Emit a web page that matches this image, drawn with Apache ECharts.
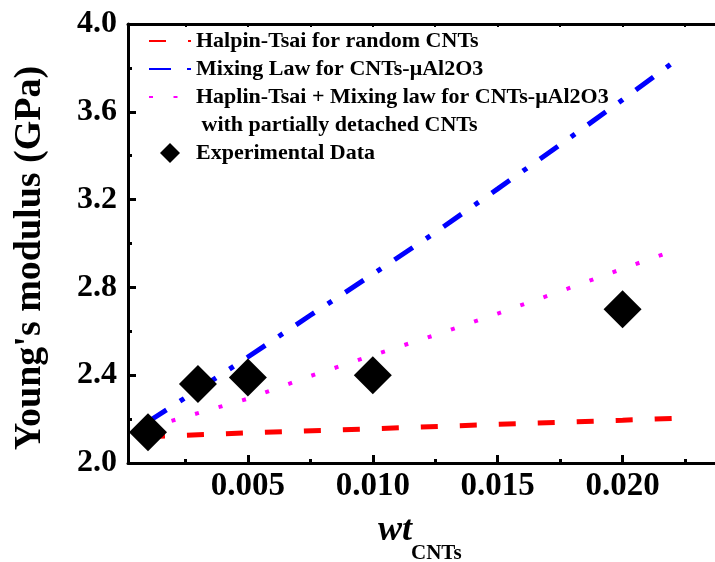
<!DOCTYPE html>
<html>
<head>
<meta charset="utf-8">
<script src="https://cdn.jsdelivr.net/npm/echarts@6/dist/echarts.min.js"></script>
<style>
  html, body { margin: 0; padding: 0; background: #fff; }
  #chart { width: 715px; height: 562px; }
</style>
</head>
<body>
<div id="chart"></div>
<script>
// values
const expX = [0.001, 0.003, 0.005, 0.010, 0.020];
const expY = [2.14, 2.36, 2.39, 2.40, 2.70];
const halpinX = [0.001, 0.005, 0.010, 0.015, 0.020, 0.022];
const halpinY = [2.120, 2.137, 2.156, 2.176, 2.195, 2.203];
const mixX = [0.001, 0.003, 0.005, 0.0075, 0.010, 0.0125, 0.015, 0.0175, 0.020, 0.022];
const mixY = [2.188, 2.334, 2.483, 2.673, 2.860, 3.050, 3.249, 3.450, 3.655, 3.823];
const detX = [0.001, 0.003, 0.005, 0.0075, 0.010, 0.0125, 0.015, 0.0175, 0.020, 0.022];
const detY = [2.161, 2.227, 2.293, 2.396, 2.491, 2.583, 2.681, 2.782, 2.885, 2.966];
const xMajorTicks = [0.005, 0.010, 0.015, 0.020];
const xMinorTicks = [0.0025, 0.0075, 0.0125, 0.0175, 0.0225];

const names = [
  'Halpin-Tsai for random CNTs',
  'Mixing Law for CNTs-\u03bcAl2O3',
  'Haplin-Tsai + Mixing law for CNTs-\u03bcAl2O3',
  ' with partially detached CNTs',
  'Experimental Data'
];

const serif = "'Liberation Serif', 'Times New Roman', serif";
const zip = (xs, ys) => xs.map((x, i) => [x, ys[i]]);

let myChart = echarts.init(document.getElementById('chart'), null, { renderer: 'canvas' });

const xRange = { min: 0.0002, max: 0.0237 };
// legend line icons: hide the circle that echarts puts on line icons
const noDot = { opacity: 0 };
// square diamond inside the 42x20 legend icon box (the M points only set the box)
const diamondIcon = 'path://M0,0 M42,20 M21,0 L31,10 L21,20 L11,10 Z';

let option = {
  animation: false,
  grid: { left: 128, right: 0, top: 24, bottom: 99, containLabel: false, outerBoundsMode: 'none' },
  legend: {
    orient: 'vertical',
    left: 143,
    top: 25,
    itemWidth: 42,
    itemHeight: 20,
    itemGap: 6,
    selectedMode: false,
    textStyle: { fontFamily: serif, fontWeight: 'bold', fontSize: 22, color: '#000', lineHeight: 22 },
    data: [
      { name: names[0], itemStyle: noDot },
      { name: names[1], itemStyle: noDot },
      { name: names[2], itemStyle: noDot },
      { name: names[3], icon: 'none' },
      { name: names[4], icon: diamondIcon }
    ]
  },
  xAxis: [
    {
      type: 'value', position: 'bottom', ...xRange,
      axisLine: { show: true, lineStyle: { color: '#000', width: 3 } },
      axisTick: { show: true, inside: true, length: 8, lineStyle: { color: '#000', width: 3 }, customValues: xMajorTicks },
      axisLabel: {
        customValues: xMajorTicks, margin: 7,
        formatter: v => v.toFixed(3),
        fontFamily: serif, fontWeight: 'bold', fontSize: 33, color: '#000'
      },
      splitLine: { show: false }
    },
    {
      // minor ticks on bottom
      type: 'value', position: 'bottom', ...xRange,
      axisLine: { show: false },
      axisTick: { show: true, inside: true, length: 4, lineStyle: { color: '#000', width: 3 }, customValues: xMinorTicks },
      axisLabel: { show: false },
      splitLine: { show: false }
    },
    {
      // top frame
      type: 'value', position: 'top', ...xRange,
      axisLine: { show: true, lineStyle: { color: '#000', width: 3 } },
      axisTick: { show: true, inside: true, length: 3, lineStyle: { color: '#000', width: 2 },
        customValues: [0.0025, 0.005, 0.0075, 0.010, 0.0125, 0.015, 0.0175, 0.020, 0.0225] },
      axisLabel: { show: false },
      splitLine: { show: false }
    }
  ],
  yAxis: {
    type: 'value', min: 2.0, max: 4.0, interval: 0.4,
    axisLine: { show: true, lineStyle: { color: '#000', width: 3 } },
    axisTick: { show: true, inside: true, length: 8, lineStyle: { color: '#000', width: 3 } },
    minorTick: { show: true, splitNumber: 2, length: 4, lineStyle: { color: '#000', width: 3 } },
    axisLabel: {
      margin: 11,
      formatter: v => v.toFixed(1),
      fontFamily: serif, fontWeight: 'bold', fontSize: 32, color: '#000'
    },
    splitLine: { show: false }
  },
  series: [
    {
      name: names[0], type: 'line', xAxisIndex: 0, symbol: 'none',
      lineStyle: { color: '#ff0000', width: 5, type: [17, 22], cap: 'butt' },
      itemStyle: { color: '#ff0000' },
      data: zip(halpinX, halpinY), z: 2
    },
    {
      name: names[1], type: 'line', xAxisIndex: 0, symbol: 'none',
      lineStyle: { color: '#0000ff', width: 5, type: [22, 16, 5, 16], cap: 'butt' },
      itemStyle: { color: '#0000ff' },
      data: zip(mixX, mixY), z: 2
    },
    {
      name: names[2], type: 'line', xAxisIndex: 0, symbol: 'none',
      lineStyle: { color: '#ff00ff', width: 4, type: [4, 20.5], cap: 'butt' },
      itemStyle: { color: '#ff00ff' },
      data: zip(detX, detY), z: 2
    },
    {
      // second line of the third legend entry
      name: names[3], type: 'scatter', xAxisIndex: 0, data: []
    },
    {
      name: names[4], type: 'scatter', xAxisIndex: 0, symbol: 'diamond', symbolSize: 38,
      itemStyle: { color: '#000', opacity: 1 },
      data: zip(expX, expY), z: 5
    }
  ],
  graphic: [
    {
      type: 'text', x: 30, y: 258, rotation: Math.PI / 2,
      style: { text: "Young's modulus (GPa)", align: 'center', verticalAlign: 'middle',
        font: 'bold 38px ' + serif, fill: '#000' }
    },
    {
      type: 'text', x: 378, y: 531,
      style: { text: 'wt', align: 'left', verticalAlign: 'middle',
        font: 'italic bold 36px ' + serif, fill: '#000' }
    },
    {
      type: 'text', x: 411, y: 554,
      style: { text: 'CNTs', align: 'left', verticalAlign: 'middle',
        font: 'bold 21px ' + serif, fill: '#000' }
    }
  ]
};

myChart.setOption(option);
</script>
</body>
</html>
